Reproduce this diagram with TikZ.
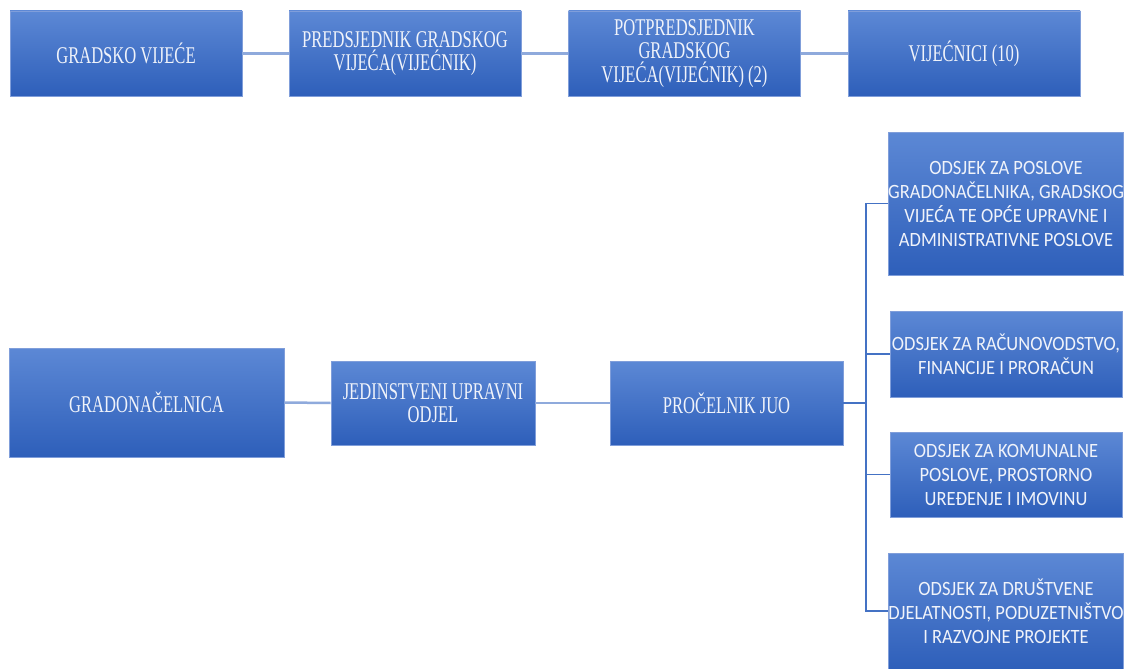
\documentclass[tikz,border=0pt]{standalone}
\usepackage{fontspec}
\newfontfamily\serifc[FakeStretch=0.69]{Liberation Serif}
\newfontfamily\sansc[FakeStretch=0.91]{Carlito}
\definecolor{boxtop}{RGB}{92,136,213}
\definecolor{boxbot}{RGB}{46,95,186}
\definecolor{boxedge}{RGB}{128,158,218}
\definecolor{lightline}{RGB}{143,170,220}
\definecolor{darkline}{RGB}{68,114,196}
\definecolor{boxtext}{RGB}{240,243,250}
\tikzset{
  orgbox/.style={draw=boxedge, line width=0.8pt, top color=boxtop, bottom color=boxbot,
    text=boxtext, align=center, inner sep=0pt, minimum width=#1},
  orgbox/.default=232pt,
  serifbox/.style={orgbox=#1, font=\serifc\fontsize{24}{23.5}\selectfont},
  serifbox/.default=232pt,
  sansbox/.style={orgbox=232pt, font=\sansc\fontsize{20.3}{24}\selectfont},
  lightconn/.style={draw=lightline, line width=2.5pt},
  darkconn/.style={draw=darkline, line width=1.4pt}
}
\begin{document}
\begin{tikzpicture}[x=1pt,y=-1pt]
\path[use as bounding box, clip] (0,0) rectangle (1125,669);
\fill[white] (0,0) rectangle (1125,669);
% top row
\node[serifbox, minimum height=85pt] (gv) at (126,53.5) {GRADSKO VIJEĆE};
\node[serifbox, minimum height=85pt] (pred) at (405,53.5) {PREDSJEDNIK GRADSKOG\\VIJEĆA(VIJEĆNIK)};
\node[serifbox, minimum height=85pt] (pot) at (684.5,53.5) {POTPREDSJEDNIK\\GRADSKOG\\VIJEĆA(VIJEĆNIK) (2)};
\node[serifbox, minimum height=85pt] (vij) at (964,53.5) {VIJEĆNICI (10)};
% middle row
\node[serifbox=275pt, minimum height=109pt] (gradon) at (146.5,402.5) {GRADONAČELNICA};
\node[serifbox=204pt, minimum height=84pt] (juo) at (433,403) {JEDINSTVENI UPRAVNI\\ODJEL};
\node[serifbox=233pt, minimum height=84pt] (proc) at (726.5,403) {PROČELNIK JUO};
% right column
\node[sansbox, minimum height=143pt] (oa) at (1006,203.5) {ODSJEK ZA POSLOVE\\GRADONAČELNIKA, GRADSKOG\\VIJEĆA TE OPĆE UPRAVNE I\\ADMINISTRATIVNE POSLOVE};
\node[sansbox, minimum height=86pt] (ob) at (1006,354) {ODSJEK ZA RAČUNOVODSTVO,\\FINANCIJE I PRORAČUN};
\node[sansbox, minimum height=85pt] (oc) at (1006,474.5) {ODSJEK ZA KOMUNALNE\\POSLOVE, PROSTORNO\\UREĐENJE I IMOVINU};
\node[sansbox, minimum height=116pt] (od) at (1006,611) {ODSJEK ZA DRUŠTVENE\\DJELATNOSTI, PODUZETNIŠTVO\\I RAZVOJNE PROJEKTE};
% connectors
\draw[lightconn] (gv.east) -- (pred.west);
\draw[lightconn] (pred.east) -- (pot.west);
\draw[lightconn] (pot.east) -- (vij.west);
\draw[lightconn] (gradon.east) -- (juo.west);
\draw[lightconn] (juo.east) -- (proc.west);
\coordinate (bus) at (866,403);
\draw[darkconn] (proc.east) -- (bus);
\draw[darkconn] (bus) |- (oa.west);
\draw[darkconn] (bus) |- (ob.west);
\draw[darkconn] (bus) |- (oc.west);
\draw[darkconn] (bus) |- (od.west);
\end{tikzpicture}
\end{document}
